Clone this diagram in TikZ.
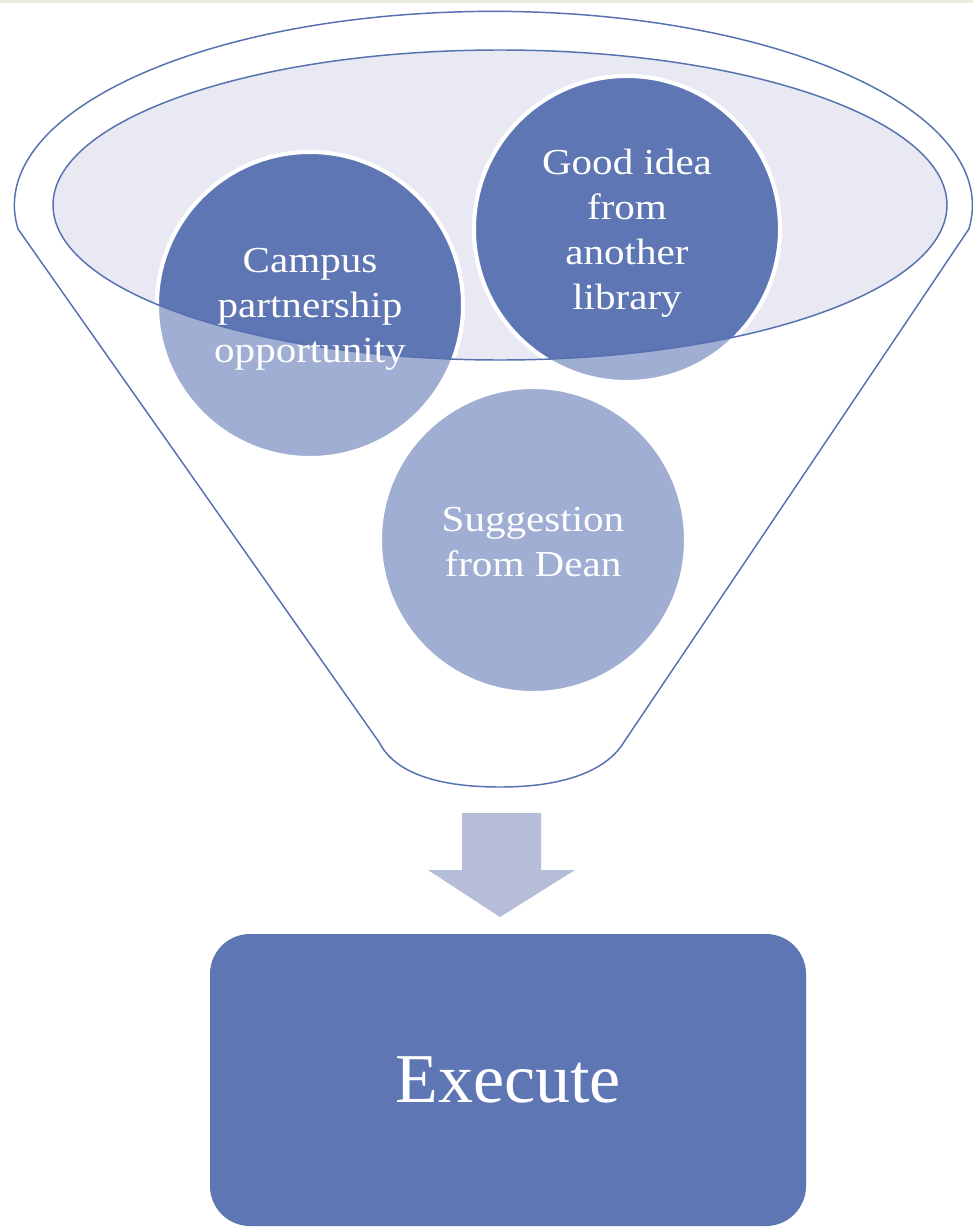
\documentclass[tikz,border=0pt]{standalone}
\usepackage{fontspec}
\setmainfont{Liberation Serif}
\newfontfamily\circfont[FakeStretch=1.12]{Liberation Serif}
\definecolor{darkc}{HTML}{5E76B3}
\definecolor{lightc}{HTML}{A0AED3}
\definecolor{lav}{HTML}{E8E9F3}
\definecolor{linec}{HTML}{5670B0}
\definecolor{arrowc}{HTML}{B6BDD8}
\definecolor{topband}{HTML}{ECEBE2}
\tikzset{
  circ/.style={circle, fill=lightc, draw=white, line width=3pt, minimum size=229.5pt, inner sep=0pt},
  circtext/.style={text=white, align=center, font=\circfont\fontsize{27.5}{33.75}\selectfont},
  funnel/.style={draw=linec, line width=1.1pt, fill=white},
  stepbox/.style={rectangle, rounded corners=30pt, fill=darkc, text=white, minimum width=447pt, minimum height=219pt, font=\fontsize{52.5}{60}\selectfont}
}
\begin{document}
\begin{tikzpicture}[x=0.75pt,y=-0.75pt]
\useasboundingbox (0,0) rectangle (973,1228);
\fill[white] (0,0) rectangle (973,1228);
\fill[topband] (0,0) rectangle (973,3);
% funnel body
\draw[funnel] (18,229) arc[start angle=187, end angle=-7, x radius=359.25pt, y radius=145.5pt]
  -- (624,742) .. controls (612,762) and (580,787) .. (500,787)
  .. controls (420,787) and (390,764) .. (379,742) -- cycle;
% inner ellipse fill
\fill[lav] (500,205) ellipse[x radius=335.25pt, y radius=116.25pt];
% circles
\node[circ] (campus) at (310,305) {};
\node[circ] (good) at (627,229) {};
\node[circ] (dean) at (533,540) {};
\begin{scope}
  \clip (500,205) ellipse[x radius=335.25pt, y radius=116.25pt];
  \filldraw[fill=darkc, draw=white, line width=3pt] (campus.center) circle[radius=114.75pt];
  \filldraw[fill=darkc, draw=white, line width=3pt] (good.center) circle[radius=114.75pt];
\end{scope}
\draw[draw=linec, line width=1.1pt] (500,205) ellipse[x radius=335.25pt, y radius=116.25pt];
% texts
\node[circtext] (campusT) at ([yshift=-3pt]campus.center) {Campus\\partnership\\opportunity};
\node[circtext] (goodT) at ([yshift=-3pt]good.center) {Good idea\\from\\another\\library};
\node[circtext] (deanT) at ([yshift=-1.5pt]dean.center) {Suggestion\\from Dean};
% block arrow
\fill[arrowc] (462,813) -- (541,813) -- (541,870) -- (575,870) -- (500,917) -- (428,870) -- (462,870) -- cycle;
% execute box
\node[stepbox] (exec) at (508,1080) {Execute};
\end{tikzpicture}
\end{document}
